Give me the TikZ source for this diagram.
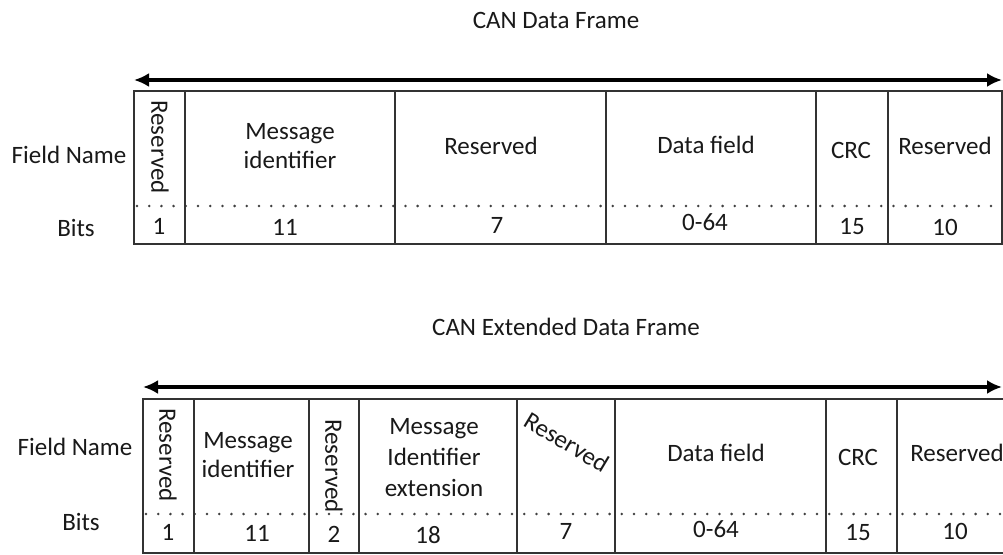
\documentclass[tikz,border=0pt]{standalone}
\usepackage{fontspec}
\setmainfont{Carlito}
\usetikzlibrary{arrows.meta}
\begin{document}
\begin{tikzpicture}[x=1pt,y=-1pt,
  cell/.style={draw=black!80,line width=1.4pt},
  dotsep/.style={draw=black!75,line width=2.8pt,dash pattern=on 0pt off 12.2pt,line cap=round},
  lbl/.style={font=\fontsize{25}{29}\selectfont,text=black!90,inner sep=0pt,align=center},
  span/.style={line width=4pt,{Latex[length=15pt,width=14pt]}-{Latex[length=15pt,width=14pt]}}]
\clip (0,0) rectangle (1003,554);
\fill[white] (0,0) rectangle (1003,554);

% ---------- CAN Data Frame ----------
\node[lbl] (t1) at (556,20) {CAN Data Frame};
\coordinate (a1l) at (134,80);
\coordinate (a1r) at (1002,80);
\draw[span] (a1l) -- (a1r);

\draw[dotsep] (137,206) -- (1002,206);
\draw[cell] (134,91) rectangle (1002,244);
\foreach \x in {185,395,606,816,888} \draw[cell] (\x,91) -- (\x,244);

\node[lbl] (fn1) at (69,155) {Field Name};
\node[lbl] (b1) at (76,228) {Bits};

\node[lbl,rotate=-90] (r1a) at (160,147) {Reserved};
\node[lbl] (m1) at (290,146) {Message\\identifier};
\node[lbl] (r1b) at (491,146) {Reserved};
\node[lbl] (d1) at (706,145) {Data field};
\node[lbl] (c1) at (851,150) {CRC};
\node[lbl] (r1c) at (945,146) {Reserved};

\node[lbl] (n1a) at (159,226) {1};
\node[lbl] (n1b) at (285,227) {11};
\node[lbl] (n1c) at (497,225) {7};
\node[lbl] (n1d) at (705,222) {0-64};
\node[lbl] (n1e) at (852,227) {15};
\node[lbl] (n1f) at (945,227) {10};

% ---------- CAN Extended Data Frame ----------
\node[lbl] (t2) at (566,327) {CAN Extended Data Frame};
\coordinate (a2l) at (143,387);
\coordinate (a2r) at (1002,387);
\draw[span] (a2l) -- (a2r);

\draw[dotsep] (146,514) -- (1010,514);
\draw[cell] (143,399) rectangle (1012,553);
\foreach \x in {194,309,359,517,615,826,897} \draw[cell] (\x,399) -- (\x,553);

\node[lbl] (fn2) at (75,447) {Field Name};
\node[lbl] (b2) at (81,522) {Bits};

\node[lbl,rotate=-90] (r2a) at (168,455) {Reserved};
\node[lbl] (m2) at (248,455) {Message\\identifier};
\node[lbl,rotate=-90] (r2b) at (334,466) {Reserved};
\node[lbl,font=\fontsize{25}{31}\selectfont] (m2x) at (434,458) {Message\\Identifier\\extension};
\node[lbl,rotate=-31] (r2c) at (567,442) {Reserved};
\node[lbl] (d2) at (716,453) {Data field};
\node[lbl] (c2) at (858,457) {CRC};
\node[lbl] (r2d) at (957,453) {Reserved};

\node[lbl] (n2a) at (168,532) {1};
\node[lbl] (n2b) at (257,533) {11};
\node[lbl] (n2c) at (334,534) {2};
\node[lbl] (n2d) at (428,535) {18};
\node[lbl] (n2e) at (566,531) {7};
\node[lbl] (n2f) at (716,529) {0-64};
\node[lbl] (n2g) at (858,533) {15};
\node[lbl] (n2h) at (955,531) {10};
\end{tikzpicture}
\end{document}
